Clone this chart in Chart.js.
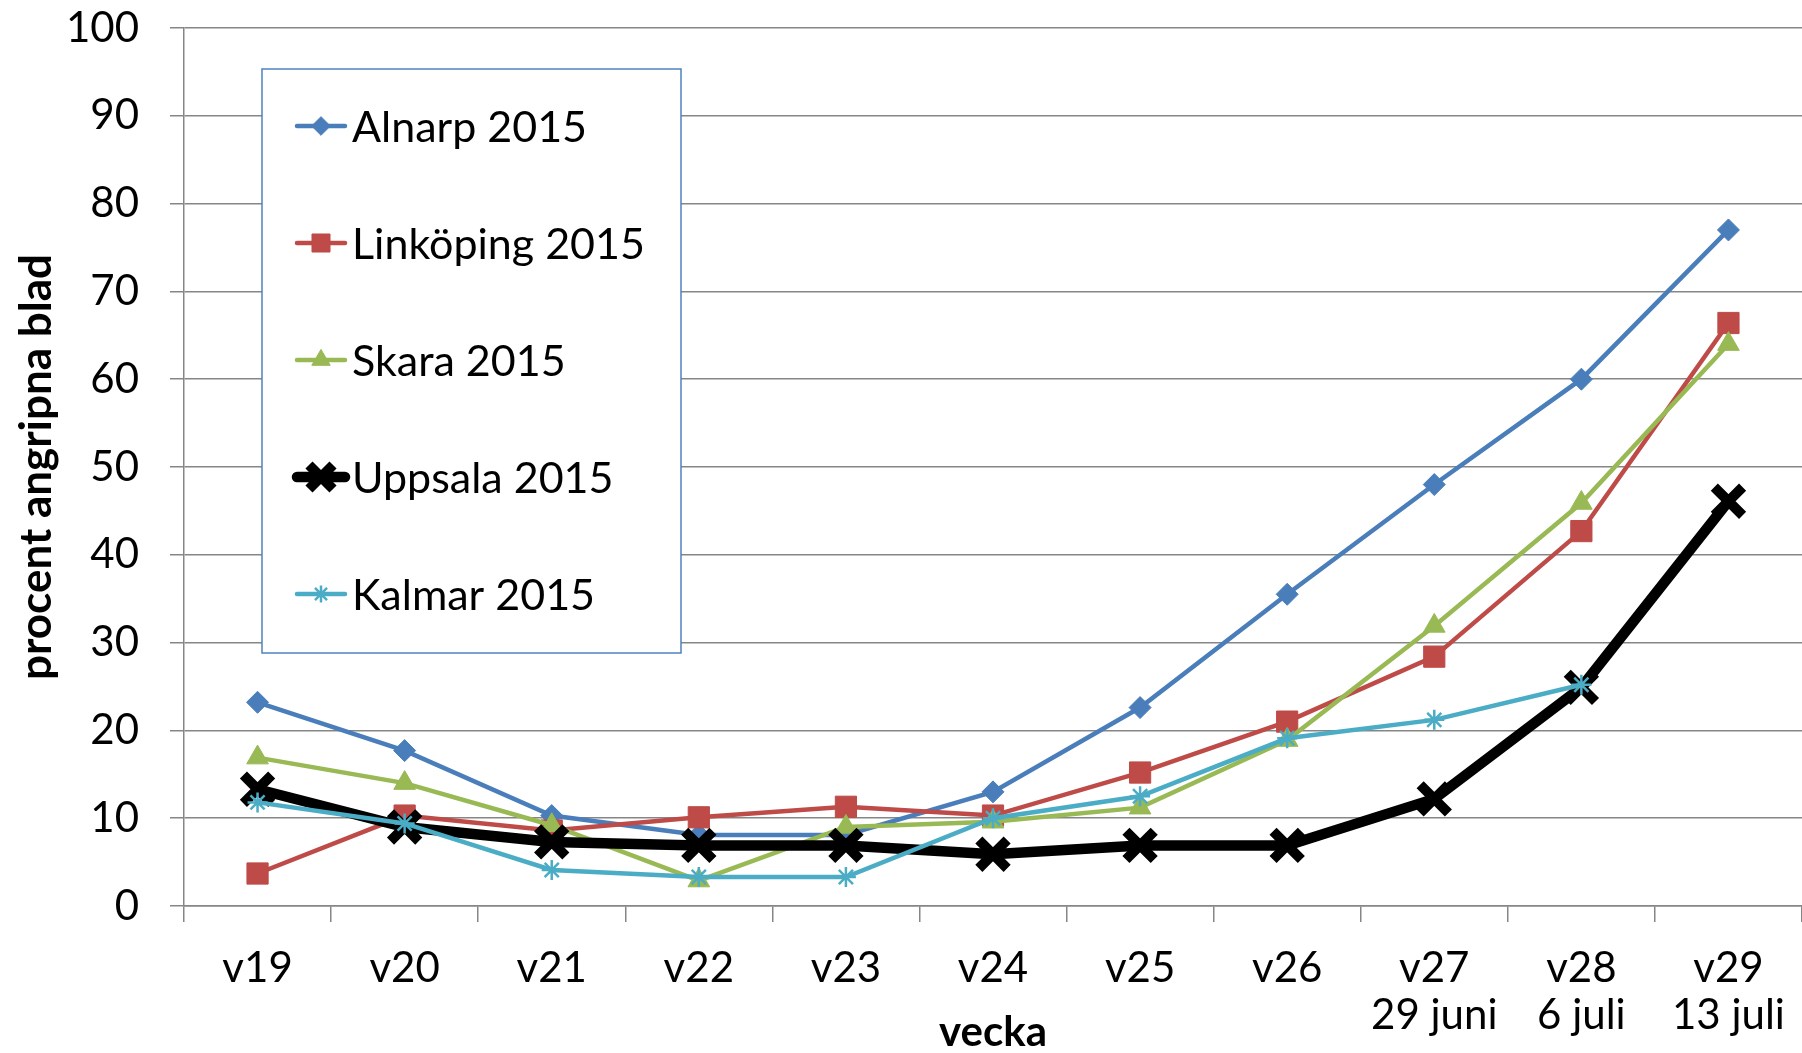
<!DOCTYPE html>
<html>
<head>
<meta charset="utf-8">
<script src="https://cdn.jsdelivr.net/npm/chart.js@4/dist/chart.umd.min.js"></script>
<style>
html, body { margin: 0; padding: 0; background: #fff; }
#wrap { width: 1802px; height: 1053px; }
</style>
</head>
<body>
<div id="wrap"><canvas id="myChart"></canvas></div>
<script>
// data
const weeks = ['v19', 'v20', 'v21', 'v22', 'v23', 'v24', 'v25', 'v26',
	['v27', '29 juni'], ['v28', '6 juli'], ['v29', '13 juli']];
const alnarp = [23.2, 17.7, 10.3, 8.1, 8.1, 13.0, 22.6, 35.5, 48.0, 60.0, 77.0];
const linkoping = [3.7, 10.3, 8.6, 10.1, 11.3, 10.3, 15.2, 21.0, 28.4, 42.7, 66.4];
const skara = [16.9, 14.0, 9.2, 2.9, 9.0, 9.6, 11.2, 18.9, 31.9, 45.9, 64.0];
const uppsala = [13.3, 9.0, 7.3, 6.9, 6.9, 5.9, 6.9, 6.9, 12.2, 24.9, 46.1];
const kalmar = [11.8, 9.4, 4.1, 3.3, 3.3, 10.0, 12.5, 19.1, 21.2, 25.2, null];
const yTicks = [0, 10, 20, 30, 40, 50, 60, 70, 80, 90, 100];

const gridGrey = '#868686';
Chart.defaults.font.family = 'Lato, "Open Sans", sans-serif';
Chart.defaults.color = '#000';

// legend drawn inside the plot, like the Excel original
const boxLegend = {
	id: 'boxLegend',
	afterDraw(chart) {
		const ctx = chart.ctx;
		const x0 = 262, y0 = 69, w = 419, h = 584;
		ctx.save();
		ctx.fillStyle = '#fff';
		ctx.fillRect(x0, y0, w, h);
		ctx.strokeStyle = '#4f81bd';
		ctx.lineWidth = 1.5;
		ctx.strokeRect(x0, y0, w, h);
		chart.data.datasets.forEach((ds, i) => {
			const y = 126 + i * 117;
			ctx.strokeStyle = ds.borderColor;
			ctx.lineWidth = ds.borderWidth;
			ctx.lineCap = 'round';
			ctx.beginPath();
			ctx.moveTo(297, y);
			ctx.lineTo(345, y);
			ctx.stroke();
			if (Chart.helpers && Chart.helpers.drawPoint) {
				ctx.fillStyle = ds.pointBackgroundColor;
				ctx.strokeStyle = ds.pointBorderColor;
				ctx.lineWidth = ds.pointBorderWidth;
				ctx.lineCap = 'butt';
				Chart.helpers.drawPoint(ctx, {
					pointStyle: ds.pointStyle,
					radius: ds.pointRadius * 0.85,
					borderWidth: ds.pointBorderWidth,
					rotation: 0
				}, 321, y);
			}
			ctx.fillStyle = '#000';
			ctx.font = '43px Lato, "Open Sans", sans-serif';
			ctx.textBaseline = 'middle';
			ctx.textAlign = 'left';
			ctx.fillText(ds.label, 352, y + 2);
		});
		ctx.restore();
	}
};

function series(label, data, color, width, style, radius, pWidth, order) {
	return {
		label: label,
		data: data,
		borderColor: color,
		backgroundColor: color,
		borderWidth: width,
		pointStyle: style,
		pointRadius: radius,
		pointHoverRadius: radius,
		pointBorderWidth: pWidth,
		pointBackgroundColor: color,
		pointBorderColor: color,
		tension: 0,
		fill: false,
		spanGaps: false,
		clip: false,
		order: order
	};
}

let ctx = document.getElementById('myChart').getContext('2d');
let lineChart = new Chart(ctx, {
	type: 'line',
	data: {
		labels: weeks,
		datasets: [
			series('Alnarp 2015', alnarp, '#4a7ebb', 4.5, 'rectRot', 11, 1, 4),
			series('Linköping 2015', linkoping, '#be4b48', 4.5, 'rect', 15, 1, 3),
			series('Skara 2015', skara, '#98b954', 4.5, 'triangle', 12.5, 1, 2),
			series('Uppsala 2015', uppsala, '#000000', 10.5, 'crossRot', 20, 10, 1),
			series('Kalmar 2015', kalmar, '#4bacc6', 4.5, 'star', 10, 2.5, 0)
		]
	},
	options: {
		responsive: true,
		maintainAspectRatio: false,
		animation: false,
		devicePixelRatio: 1,
		layout: { autoPadding: false, padding: { top: 28, right: 0, bottom: 0, left: 0 } },
		plugins: {
			legend: { display: false },
			tooltip: { enabled: false }
		},
		scales: {
			x: {
				offset: true,
				// the title sits beside the second label row, so fix the axis height
				afterFit: s => { s.paddingLeft = 0; s.paddingRight = 0; s.height = 147; },
				grid: {
					offset: true,
					drawOnChartArea: false,
					drawTicks: true,
					tickLength: 16,
					color: gridGrey,
					lineWidth: 1.5
				},
				border: { color: gridGrey, width: 1.5 },
				ticks: {
					font: { size: 42, lineHeight: 1.12 },
					padding: 23,
					maxRotation: 0,
					autoSkip: false
				},
				title: {
					display: true,
					text: 'vecka',
					font: { size: 42, weight: 'bold', lineHeight: 1 },
					padding: { top: 0, bottom: 0 }
				}
			},
			y: {
				min: 0,
				max: 100,
				afterBuildTicks: s => { s.ticks = yTicks.map(v => ({ value: v })); },
				afterFit: s => { s.width = 184; s.paddingTop = 0; s.paddingBottom = 0; },
				grid: {
					color: gridGrey,
					lineWidth: 1.5,
					tickLength: 14
				},
				border: { color: gridGrey, width: 1.5 },
				ticks: {
					font: { size: 42 },
					padding: 31
				},
				title: {
					display: true,
					text: 'procent angripna blad',
					font: { size: 44, weight: 'bold', lineHeight: 1.2 },
					padding: { top: 10, bottom: 0 }
				}
			}
		}
	},
	plugins: [boxLegend]
});
</script>
</body>
</html>
